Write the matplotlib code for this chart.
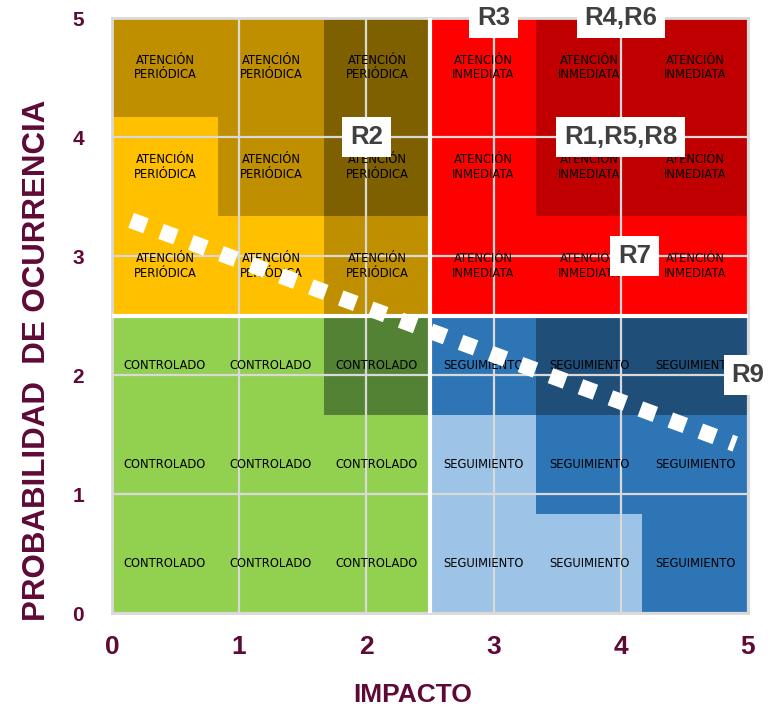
import matplotlib.pyplot as plt
from matplotlib.patches import Rectangle

# Ejes de la matriz de riesgo
impacto_ticks = [0, 1, 2, 3, 4, 5]
prob_ticks = [0, 1, 2, 3, 4, 5]

# Cada cuadrante se divide en 3x3 subceldas; nivel de tono por subcelda (fila 0 = abajo)
niveles_periodica = [[0, 0, 1], [0, 1, 2], [1, 1, 2]]
niveles_inmediata = [[0, 0, 0], [0, 1, 1], [0, 1, 1]]
niveles_controlado = [[0, 0, 0], [0, 0, 0], [0, 0, 1]]
niveles_seguimiento = [[0, 0, 1], [0, 1, 1], [1, 2, 2]]

colores_periodica = ['#FFC000', '#BF8F00', '#7F6000']
colores_inmediata = ['#FF0000', '#C00000']
colores_controlado = ['#92D050', '#548235']
colores_seguimiento = ['#9DC3E6', '#2E75B6', '#1F4E79']

# Riesgos ubicados en la matriz
riesgos = ['R2', 'R3', 'R4,R6', 'R1,R5,R8', 'R7', 'R9']
impacto = [2, 3, 4, 4, 4, 5]
probabilidad = [4, 5, 5, 4, 3, 2]
desplaz_x = [0, 0, 0, 0, 10, 0]

# Linea de tolerancia
tendencia_x = [0.15, 4.9]
tendencia_y = [3.3, 1.42]

granate = '#5F0A36'

cuadrantes = [
    (0.0, 2.5, niveles_periodica, colores_periodica, 'ATENCIÓN\nPERIÓDICA'),
    (2.5, 2.5, niveles_inmediata, colores_inmediata, 'ATENCIÓN\nINMEDIATA'),
    (0.0, 0.0, niveles_controlado, colores_controlado, 'CONTROLADO'),
    (2.5, 0.0, niveles_seguimiento, colores_seguimiento, 'SEGUIMIENTO'),
]

fig = plt.figure(figsize=(7.82, 7.10), dpi=100)
ax = fig.add_axes([0.1432, 0.1366, 0.8133, 0.838])

lado = 2.5 / 3
for x0, y0, niveles, colores, texto in cuadrantes:
    for fila in range(3):
        for col in range(3):
            cx = x0 + col * lado
            cy = y0 + fila * lado
            ax.add_patch(Rectangle((cx, cy), lado, lado, facecolor=colores[niveles[fila][col]],
                                   edgecolor='none', zorder=1))
            ax.text(cx + lado / 2, cy + lado / 2, texto, ha='center', va='center',
                    fontsize=8.3, color='black', linespacing=1.15, zorder=4)

# separadores blancos entre cuadrantes
ax.axvline(2.5, color='white', lw=3, zorder=3)
ax.axhline(2.5, color='white', lw=3, zorder=3)

ax.plot(tendencia_x, tendencia_y, color='white', lw=11.5, linestyle=(0, (1, 1)),
        solid_capstyle='butt', dash_capstyle='butt', zorder=5)

for nombre, xi, yi, dx in zip(riesgos, impacto, probabilidad, desplaz_x):
    ax.annotate(nombre, (xi, yi), xytext=(dx, 0), textcoords='offset points',
                ha='center', va='center', fontsize=18.5, fontweight='bold', color='#404040',
                family=['Liberation Sans', 'DejaVu Sans'], annotation_clip=False, zorder=6,
                bbox=dict(boxstyle='square,pad=0.3', facecolor='white', edgecolor='none'))

ax.set_xlim(0, 5)
ax.set_ylim(0, 5)
ax.set_xticks(impacto_ticks)
ax.set_yticks(prob_ticks)
ax.grid(True, color='#D9D9D9', lw=1.6)
ax.tick_params(length=0)
ax.tick_params(axis='x', pad=16)
ax.tick_params(axis='y', pad=20)
for lbl in ax.get_xticklabels():
    lbl.set_fontfamily(['Liberation Sans', 'DejaVu Sans'])
    lbl.set_fontweight('bold')
    lbl.set_fontsize(19)
    lbl.set_color(granate)
for lbl in ax.get_yticklabels():
    lbl.set_fontfamily(['Liberation Sans', 'DejaVu Sans'])
    lbl.set_fontweight('bold')
    lbl.set_fontsize(15)
    lbl.set_color(granate)
for sp in ax.spines.values():
    sp.set_color('#D9D9D9')
    sp.set_linewidth(2)

ax.set_xlabel('IMPACTO', fontsize=19, fontweight='bold', color=granate,
              family=['Liberation Sans', 'DejaVu Sans'])
ax.xaxis.set_label_coords(0.473, -0.117)
ax.set_ylabel('PROBABILIDAD  DE OCURRENCIA', fontsize=22.5, fontweight='bold', color=granate,
              family=['Liberation Sans', 'DejaVu Sans'])
ax.yaxis.set_label_coords(-0.095, 0.425)

fig.savefig('out.png', dpi=100)
